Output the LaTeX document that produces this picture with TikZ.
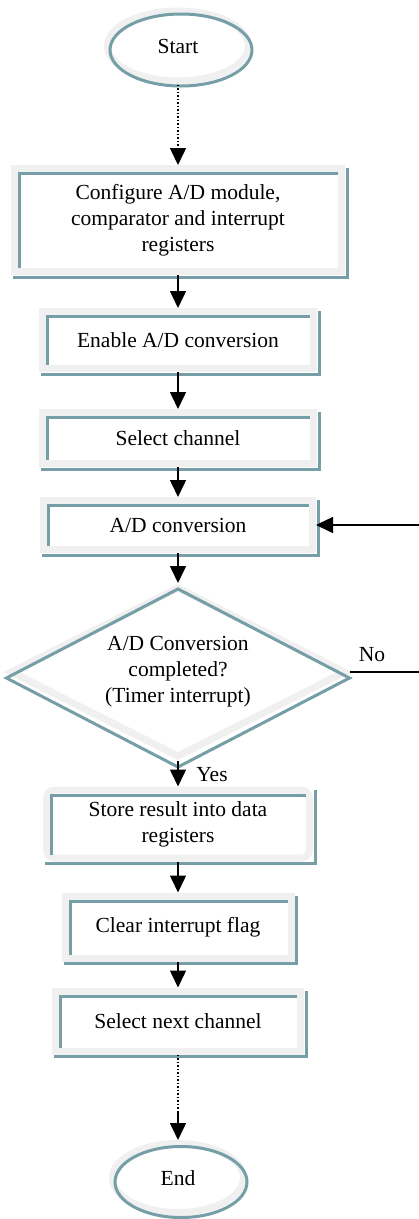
\documentclass[tikz,border=0pt]{standalone}
\usepackage{fontspec}
\setmainfont{Liberation Serif}
\usetikzlibrary{shapes.geometric,arrows.meta,calc}

\definecolor{framegray}{RGB}{240,240,240}
\definecolor{frameteal}{RGB}{118,158,166}

\tikzset{
  flowframe/.style={draw=framegray,line width=7pt,fill=white,align=center,inner sep=2pt},
  procbox/.style={flowframe,rectangle},
  termbox/.style={flowframe,ellipse},
  decbox/.style={flowframe,diamond,aspect=1.96,inner sep=0pt},
  ridge/.style={draw=frameteal,line width=3pt},
  conn/.style={line width=1.5pt},
  arr/.style={conn,-{Triangle[width=16pt,length=17pt]}},
}

\begin{document}
\begin{tikzpicture}[x=1pt,y=-1pt,font=\fontsize{21.5}{26}\selectfont]
  \useasboundingbox (0,0) rectangle (419,1219);

  % Terminals, steps and the test
  \node[termbox,minimum width=141pt,minimum height=70pt] (st) at (178,46) {Start};
  \node[procbox,minimum width=327pt,minimum height=103pt] (cfg) at (178,220)
    {Configure A/D module,\\comparator and interrupt\\registers};
  \node[procbox,minimum width=271pt,minimum height=57pt] (ena) at (178,340) {Enable A/D conversion};
  \node[procbox,minimum width=271pt,minimum height=51pt] (sel) at (178,438) {Select channel};
  \node[procbox,minimum width=269pt,minimum height=49pt] (adc) at (178,525) {A/D conversion};
  \node[decbox,minimum width=336pt,minimum height=171pt] (dec) at (178,672)
    {A/D Conversion\\completed?\\(Timer interrupt)};
  \node[procbox,rounded corners=8pt,minimum width=263pt,minimum height=68pt] (str) at (178,824)
    {Store result into data\\registers};
  \node[procbox,minimum width=226pt,minimum height=62pt] (clr) at (178,927) {Clear interrupt flag};
  \node[procbox,minimum width=245pt,minimum height=60pt] (nxt) at (178,1021) {Select next channel};
  \node[termbox,minimum width=131pt,minimum height=69pt] (en) at (178,1178) {End};

  % Teal edges of the frames
  \foreach \n in {cfg,ena,sel,adc,str,clr,nxt}{
    \draw[ridge] ($(\n.south west)+(8.5pt,7pt)$) |- ($(\n.north east)+(-7pt,-8.5pt)$);
    \draw[ridge] ($(\n.north east)+(2pt,-3pt)$) |- ($(\n.south west)+(2pt,-2pt)$);
  }
  \draw[ridge] ([xshift=3pt,yshift=-4pt]st.center) ellipse [x radius=71pt,y radius=36pt];
  \draw[ridge] ([xshift=3pt,yshift=-4pt]en.center) ellipse [x radius=66pt,y radius=35.5pt];
  \draw[ridge] ([yshift=-6pt]dec.north) -- ([yshift=-6pt]dec.east)
    -- ([yshift=-6pt]dec.south) -- ([yshift=-6pt]dec.west) -- cycle;

  % Connectors
  \coordinate (stgap) at (178,150);
  \coordinate (nxtgap) at (178,1112);
  \coordinate (loopin) at (419,525);
  \coordinate (noout) at (419,672);

  \draw[conn,dotted] (st.south) -- (stgap);
  \draw[arr] (stgap) -- (cfg.north);
  \draw[arr] (cfg.south) -- (ena.north);
  \draw[arr] (ena.south) -- (sel.north);
  \draw[arr] (sel.south) -- (adc.north);
  \draw[arr] (adc.south) -- (dec.north);
  \draw[arr] (dec.south) -- (str.north);
  \draw[arr] (str.south) -- (clr.north);
  \draw[arr] (clr.south) -- (nxt.north);
  \draw[conn,dotted] (nxt.south) -- (nxtgap);
  \draw[arr] (nxtgap) -- (en.north);
  \draw[conn] (dec.east) -- (noout);
  \draw[arr] (loopin) -- (adc.east);

  % Branch labels
  \node (nolbl) at (372,655) {No};
  \node (yeslbl) at (212,775) {Yes};
\end{tikzpicture}
\end{document}
